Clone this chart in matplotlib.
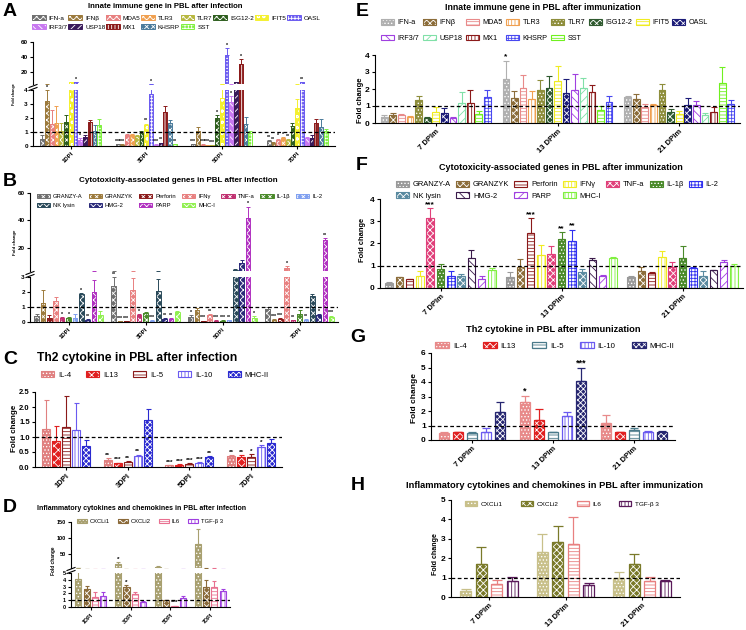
import numpy as np
import matplotlib
matplotlib.use('Agg')
import matplotlib.pyplot as plt
from matplotlib.patches import Patch
from matplotlib.lines import Line2D

plt.rcParams['font.family'] = ['Liberation Sans', 'DejaVu Sans']
plt.rcParams['hatch.linewidth'] = 0.6
plt.rcParams['axes.linewidth'] = 0.8

# ------------------------------------------------------------------ data
# Panel A : innate immune genes after infection
A_groups = ['1DPI', '3DPI', '5DPI', '7DPI']
A_genes = ['IFN-a', 'IFNβ', 'MDA5', 'TLR3', 'TLR7', 'ISG12-2', 'IFIT5', 'OASL',
           'IRF3/7', 'USP18', 'MX1', 'KHSRP', 'SST']
A_vals = [[0.50, 0.12, 0.12, 0.35], [3.20, 0.10, 1.05, 0.22], [1.60, 0.80, 0.10, 0.45],
          [1.65, 0.78, 0.08, 0.55], [1.05, 0.75, 0.06, 0.40], [1.70, 0.95, 2.00, 1.40],
          [6.70, 1.50, 3.40, 2.75], [6.50, 3.70, 43.0, 6.50], [0.45, 0.10, 3.15, 0.55],
          [0.65, 0.20, 6.70, 0.60], [1.70, 2.40, 31.0, 1.65], [1.10, 1.65, 1.60, 1.35],
          [1.50, 0.12, 0.90, 1.05]]
A_errs = [[0.30, 0.02, 0.02, 0.08], [0.80, 0.02, 0.30, 0.05], [1.00, 0.05, 0.02, 0.08],
          [1.20, 0.05, 0.02, 0.08], [0.60, 0.05, 0.02, 0.08], [0.50, 0.15, 0.22, 0.25],
          [0.50, 0.10, 1.10, 0.60], [0.50, 0.45, 9.00, 0.50], [0.10, 0.02, 0.40, 0.10],
          [0.15, 0.05, 0.50, 0.20], [0.15, 0.45, 6.00, 0.25], [0.40, 0.20, 0.50, 0.55],
          [0.40, 0.03, 0.15, 0.20]]
A_stars = [['', '***', '***', '**'], ['*', '***', '', '**'], ['', '', '***', '*'],
           ['', '', '***', '*'], ['', '', '***', '**'], ['', '', '*', ''],
           ['', '**', '', ''], ['*', '*', '*', '**'], ['*', '***', '*', ''],
           ['', '**', '', ''], ['', '', '*', ''], ['', '', '', ''], ['', '**', '', '']]

# Panel B : cytotoxicity genes after infection
B_groups = ['1DPI', '3DPI', '5DPI', '7DPI']
B_genes = ['GRANZY-A', 'GRANZYK', 'Perforin', 'IFNγ', 'TNF-a', 'IL-1β', 'IL-2',
           'NK lysin', 'HMG-2', 'PARP', 'MHC-I']
B_vals = [[0.40, 2.40, 0.35, 0.90], [1.25, 0.05, 0.80, 0.15], [0.30, 0.05, 0.08, 0.20],
          [1.40, 2.15, 0.45, 5.50], [0.25, 0.45, 0.10, 0.12], [0.25, 0.60, 0.08, 0.55],
          [0.30, 0.10, 0.12, 0.15], [1.85, 2.10, 4.00, 1.75], [0.15, 0.20, 8.50, 0.45],
          [2.00, 0.20, 42.0, 25.5], [0.45, 0.65, 0.30, 0.35]]
B_errs = [[0.15, 0.60, 0.10, 0.08], [0.90, 0.01, 0.15, 0.03], [0.20, 0.01, 0.02, 0.04],
          [0.25, 0.80, 0.08, 1.00], [0.08, 0.08, 0.03, 0.03], [0.08, 0.08, 0.03, 0.25],
          [0.25, 0.02, 0.03, 0.03], [0.10, 0.75, 0.80, 0.15], [0.03, 0.05, 2.50, 0.10],
          [0.80, 0.05, 8.00, 1.50], [0.30, 0.10, 0.08, 0.08]]
B_stars = [['', '**', '*', ''], ['', '***', '', '***'], ['', '***', '***', '***'],
           ['', '', '**', '*'], ['*', '*', '***', '**'], ['*', '*', '***', ''],
           ['', '***', '**', '**'], ['*', '', '', ''], ['**', '**', '', '*'],
           ['', '**', '*', '**'], ['', '*', '*', '***']]

# Panel C : Th2 cytokines after infection
C_groups = ['1DPI', '3DPI', '5DPI', '7DPI']
C_genes = ['IL-4', 'IL13', 'IL-5', 'IL-10', 'MHC-II']
C_vals = [[1.27, 0.22, 0.06, 0.37], [0.88, 0.13, 0.08, 0.35], [1.32, 0.17, 0.10, 0.35],
          [1.25, 0.38, 0.15, 0.68], [0.70, 1.58, 0.32, 0.80]]
C_errs = [[0.95, 0.08, 0.01, 0.03], [0.50, 0.02, 0.01, 0.05], [1.05, 0.03, 0.02, 0.08],
          [0.90, 0.03, 0.02, 0.06], [0.20, 0.35, 0.05, 0.14]]
C_stars = [['', '**', '***', '**'], ['', '***', '***', '**'], ['', '**', '***', '*'],
           ['', '**', '***', '*'], ['', '', '**', '']]

# Panel D : inflammatory cytokines after infection
D_groups = ['1DPI', '3DPI', '5DPI', '7DPI']
D_genes = ['CXCLi1', 'CXCLi2', 'IL6', 'TGF-β 3']
D_vals = [[4.10, 18.0, 9.00, 80.0], [2.60, 2.95, 1.00, 3.00], [1.40, 1.90, 0.15, 2.95],
          [1.55, 0.75, 1.30, 2.30]]
D_errs = [[1.20, 5.00, 1.50, 48.0], [0.50, 0.30, 0.10, 0.90], [0.80, 0.30, 0.05, 0.90],
          [0.60, 0.10, 0.30, 0.30]]
D_stars = [['', '*', '', ''], ['', '*', '', ''], ['', '', '***', ''], ['', '', '', '']]

# Panel E : innate immune genes after immunization
E_groups = ['7 DPIm', '13 DPIm', '21 DPIm']
E_genes = ['IFN-a', 'IFNβ', 'MDA5', 'TLR3', 'TLR7', 'ISG12-2', 'IFIT5', 'OASL',
           'IRF3/7', 'USP18', 'MX1', 'KHSRP', 'SST']
E_vals = [[0.38, 2.60, 1.54], [0.45, 1.50, 1.40], [0.45, 2.08, 0.96], [0.35, 1.44, 1.06],
          [1.37, 1.92, 1.92], [0.30, 2.08, 0.63], [0.63, 2.46, 0.54], [0.60, 1.79, 1.06],
          [0.30, 1.92, 1.06], [1.17, 2.08, 0.48], [1.17, 1.85, 0.67], [1.54, 1.21, 1.12],
          [0.54, 0.77, 2.37]]
E_errs = [[0.08, 1.05, 0.06], [0.15, 0.38, 0.29], [0.08, 0.77, 0.14], [0.05, 0.44, 0.04],
          [0.19, 0.60, 0.35], [0.08, 0.71, 0.20], [0.33, 0.91, 0.19], [0.28, 0.77, 0.44],
          [0.05, 0.98, 0.25], [0.63, 0.54, 0.10], [0.75, 0.36, 0.29], [0.38, 0.39, 0.23],
          [0.19, 0.25, 0.92]]
E_stars = [['', '*', '']] + [['', '', '']] * 12
E_bar_order = [0, 1, 2, 3, 4, 5, 6, 7, 8, 9, 10, 12, 11]

# Panel F : cytotoxicity genes after immunization
F_groups = ['7 DPIm', '13 DPIm', '21 DPIm']
F_genes = ['GRANZY-A', 'GRANZYK', 'Perforin', 'IFNγ', 'TNF-a', 'IL-1β', 'IL-2',
           'NK lysin', 'HMG-2', 'PARP', 'MHC-I']
F_vals = [[0.24, 0.50, 0.50], [0.48, 0.94, 0.75], [0.39, 2.46, 0.69], [0.54, 1.48, 1.40],
          [3.14, 1.51, 0.95], [0.85, 2.19, 1.33], [0.54, 2.13, 0.90], [0.53, 0.72, 0.54],
          [1.36, 1.25, 0.80], [0.42, 0.53, 1.15], [0.82, 1.33, 1.00]]
F_errs = [[0.05, 0.22, 0.02], [0.03, 0.36, 0.20], [0.03, 0.68, 0.02], [0.21, 0.45, 0.26],
          [0.45, 0.39, 0.20], [0.25, 0.31, 0.57], [0.23, 0.48, 0.05], [0.10, 0.13, 0.21],
          [0.36, 0.08, 0.03], [0.12, 0.04, 0.09], [0.06, 0.07, 0.07]]
F_stars = [['', '', ''], ['', '', ''], ['', '***', ''], ['', '', ''], ['***', '', ''],
           ['', '**', ''], ['', '**', ''], ['', '', ''], ['', '', ''], ['', '', ''],
           ['', '', '']]

# Panel G : Th2 cytokines after immunization
G_groups = ['7 DPIm', '13 DPIm', '21 DPIm']
G_genes = ['IL-4', 'IL13', 'IL-5', 'IL-10', 'MHC-II']
G_vals = [[0.46, 2.59, 1.14], [0.53, 1.37, 0.53], [0.46, 0.53, 0.69], [0.57, 1.65, 0.57],
          [1.95, 4.05, 0.53]]
G_errs = [[0.07, 0.43, 0.58], [0.05, 0.76, 0.05], [0.09, 0.05, 0.16], [0.23, 0.30, 0.02],
          [0.65, 0.92, 0.07]]
G_stars = [['', '*', ''], ['', '', ''], ['', '', ''], ['', '', ''], ['', '***', '']]

# Panel H : inflammatory cytokines after immunization
H_groups = ['7 DPIm', '13 DPIm', '21 DPIm']
H_genes = ['CXCLi1', 'CXCLi2', 'IL6', 'TGF-β 3']
H_vals = [[0.29, 2.31, 0.98], [1.69, 2.86, 1.69], [0.67, 2.72, 0.80], [0.81, 0.63, 0.84]]
H_errs = [[0.12, 0.94, 0.30], [0.91, 0.82, 0.54], [0.22, 1.42, 0.24], [0.20, 0.09, 0.05]]
H_stars = [['', '', '']] * 4

# ------------------------------------------------------------------ styles
A_colors = ['#707070', '#9c7a3c', '#e88080', '#f0a050', '#b8b840', '#2e5e1e', '#f4f030',
            '#6a5af0', '#c878f0', '#3a1a5a', '#8b1a1a', '#4a7a9a', '#80f040']
A_hatch = ['xxxxx'] * 6 + ['ooo', '+++++', '\\\\\\\\\\', '/////', '|||||', 'xxxxx', '+++++']
A_mode = ['f'] * 13

B_colors = ['#707070', '#9c7a3c', '#8b1a1a', '#e88080', '#c03070', '#4a8a2a', '#80a0f0',
            '#2a4a5a', '#2a2a7a', '#b030c0', '#90f050']
B_hatch = ['xxxxx'] * 11
B_mode = ['f'] * 11

C_colors = ['#e08080', '#e02020', '#8b1a1a', '#6a5af0', '#2a2ad0']
C_hatch = ['.....', 'xxxx', '-----', '|||||', 'xxxxxx']
C_mode = ['f', 'f', 'l', 'l', 'f']

D_colors = ['#a8a070', '#8b6a3a', '#e87090', '#a040e0']
D_hatch = ['.....', 'xxxxx', '-----', '|||||']
D_mode = ['f', 'f', 'l', 'l']

E_colors = ['#b0b0b0', '#8c6d3a', '#e88a8a', '#f0a050', '#8e8e3c', '#2f5a2f', '#f0ec20',
            '#1c1c78', '#a040e0', '#80e0a8', '#8b1a1a', '#4848f0', '#70f020']
E_hatch = ['.....', 'xxxxx', '-----', '|||||', '.....', 'xxxxx', '-----', 'xxxxx',
           '\\\\\\\\', '////', '|||||', '+++++', '-----']
E_mode = ['f', 'f', 'l', 'l', 'f', 'f', 'l', 'f', 'l', 'l', 'l', 'l', 'l']

F_colors = ['#9a9a9a', '#8c6d3a', '#8b1a1a', '#f0ec20', '#e0407a', '#4a8a2a', '#3030f0',
            '#5a8aa0', '#3a1a4a', '#a040e0', '#80f040']
F_hatch = ['.....', 'xxxxx', '-----', '|||||', 'xxxxx', '.....', '+++++', 'xxxxx',
           '\\\\\\\\', '////', '|||||']
F_mode = ['f', 'f', 'l', 'l', 'f', 'f', 'l', 'f', 'l', 'l', 'l']

G_colors = ['#e88a8a', '#e02020', '#4a7a8a', '#6a5af0', '#262670']
G_hatch = ['.....', 'xxxxx', '-----', '|||||', 'xxxxxx']
G_mode = ['f', 'f', 'l', 'l', 'f']

H_colors = ['#c8c08a', '#7a7a2a', '#e88080', '#5a1a5a']
H_hatch = ['.....', 'xxxxx', '-----', '|||||']
H_mode = ['f', 'f', 'l', 'l']

# ------------------------------------------------------------------ helpers
W, H = 746, 630
fig = plt.figure(figsize=(W / 100, H / 100), dpi=100)
renderer = fig.canvas.get_renderer()


def box(l, t, r, b):
    return [l / W, 1 - b / H, (r - l) / W, (b - t) / H]


def fit(t, target, vertical=False):
    bb = t.get_window_extent(renderer)
    cur = bb.height if vertical else bb.width
    t.set_fontsize(t.get_fontsize() * target / cur)


def ftext(x, y, s, target=None, vertical=False, **kw):
    t = fig.text(x / W, 1 - y / H, s, ha='center', va='center',
                 rotation=90 if vertical else 0, **kw)
    if target:
        fit(t, target, vertical)
    return t


def panel(boxes, ylims, yticks, groups, genes, vals, errs, stars, colors, hatches, modes,
          slot, width, tick_fs, xfs, star_fs, cap, lw=0.8, order=None, fmt=None):
    axs = [fig.add_axes(box(*b)) for b in boxes]
    ng, n = len(groups), len(genes)
    if order is None:
        order = list(range(n))
    pos = {g: k for k, g in enumerate(order)}
    handles = []
    for i in range(n):
        xs = np.arange(ng) + (pos[i] - (n - 1) / 2) * slot
        v = np.array(vals[i])
        e = np.array(errs[i])
        for ax in axs:
            if modes[i] == 'f':
                ax.bar(xs, v, width, color=colors[i], edgecolor='white', hatch=hatches[i],
                       linewidth=0)
                ax.bar(xs, v, width, fill=False, edgecolor=colors[i], linewidth=lw)
            else:
                ax.bar(xs, v, width, color='white', edgecolor=colors[i], hatch=hatches[i],
                       linewidth=lw)
            ax.errorbar(xs, v, yerr=[np.zeros(ng), e], fmt='none', ecolor=colors[i],
                        elinewidth=lw, capsize=cap, capthick=lw)
        if modes[i] == 'f':
            handles.append((Patch(facecolor=colors[i], edgecolor='white', hatch=hatches[i],
                                  linewidth=0),
                            Patch(fill=False, edgecolor=colors[i], linewidth=lw)))
        else:
            handles.append(Patch(facecolor='white', edgecolor=colors[i], hatch=hatches[i],
                                 linewidth=lw))
    for k, ax in enumerate(axs):
        ax.set_xlim(-0.5, ng - 0.5)
        ax.set_ylim(*ylims[k])
        ax.set_yticks(yticks[k])
        if fmt:
            ax.set_yticklabels([fmt.format(t) for t in yticks[k]])
        ax.spines['top'].set_visible(False)
        ax.spines['right'].set_visible(False)
        ax.tick_params(axis='both', length=2.5, width=0.8, labelsize=tick_fs, pad=1.2)
        plt.setp(ax.get_yticklabels(), fontweight='bold')
        if k < len(axs) - 1:
            ax.spines['bottom'].set_visible(False)
            ax.tick_params(bottom=False, labelbottom=False)
    low = axs[-1]
    low.set_xticks(range(ng))
    low.set_xticklabels(groups, rotation=45, ha='right', rotation_mode='anchor',
                        fontsize=xfs, fontweight='bold')
    low.axhline(1, color='black', lw=0.9, ls=(0, (3, 2)))
    for i in range(n):
        for g in range(ng):
            s = stars[i][g]
            if not s:
                continue
            x = g + (pos[i] - (n - 1) / 2) * slot
            top = vals[i][g] + errs[i][g]
            ax = axs[0] if (len(axs) > 1 and top > ylims[0][0]) else low
            ax.annotate(s, (x, top), xytext=(0, 0.2), textcoords='offset points',
                        ha='center', va='bottom', fontsize=star_fs, fontweight='bold',
                        annotation_clip=False)
    return axs, handles


def breakmark(x, y1, y2):
    for y in (y1, y2):
        fig.add_artist(Line2D([(x - 4) / W, (x + 4) / W], [1 - (y + 1.5) / H, 1 - (y - 1.5) / H],
                              color='black', lw=0.8, transform=fig.transFigure))


def rowmajor(items, ncol):
    n = len(items)
    nrows = -(-n // ncol)
    out = []
    for c in range(ncol):
        for r in range(nrows):
            k = r * ncol + c
            if k < n:
                out.append(items[k])
    return out


def legend(handles, labels, x, y, ncol, fs, hl, hh, cs, ls, tp=0.5):
    fig.legend(rowmajor(handles, ncol), rowmajor(labels, ncol), loc='upper left',
               bbox_to_anchor=(x / W, 1 - y / H), ncol=ncol, fontsize=fs, frameon=False,
               handlelength=hl, handleheight=hh, columnspacing=cs, labelspacing=ls,
               handletextpad=tp, borderpad=0, borderaxespad=0)


# ------------------------------------------------------------------ panel A
axs, hA = panel([(33, 42, 335, 84), (33, 90, 335, 146)], [(4, 60), (0, 4)],
                [[20, 40, 60], [0, 1, 2, 3, 4]], A_groups, A_genes, A_vals, A_errs, A_stars,
                A_colors, A_hatch, A_mode, 0.063, 0.048, 4.6, 4.3, 3.8, 1.2, lw=0.7)
breakmark(33, 86, 89)
legend(hA, A_genes, 32, 15, 8, 4.6, 2.15, 0.8, 0.1, 0.55, tp=0.47)
ftext(165, 6, 'Innate immune gene in PBL after infection', 156, fontweight='bold')
ftext(14, 94, 'Fold change', 22, vertical=True, fontweight='bold')
ftext(10, 12, 'A', fontsize=14, fontweight='bold')

# ------------------------------------------------------------------ panel B
axs, hB = panel([(30, 193, 338, 271), (30, 277, 338, 322)], [(3, 60), (0, 3)],
                [[20, 40, 60], [0, 1, 2, 3]], B_groups, B_genes, B_vals, B_errs, B_stars,
                B_colors, B_hatch, B_mode, 0.083, 0.062, 4.6, 4.3, 3.8, 1.2, lw=0.7)
breakmark(30, 273, 276)
legend(hB, B_genes, 37, 194, 7, 4.2, 2.25, 0.8, 1.07, 0.6)
ftext(178, 180, 'Cytotoxicity-associated genes in PBL after infection', 197, fontweight='bold')
ftext(15, 242, 'Fold change', 26, vertical=True, fontweight='bold')
ftext(10, 181, 'B', fontsize=14, fontweight='bold')

# ------------------------------------------------------------------ panel C
axs, hC = panel([(35, 392, 282, 467)], [(0, 2.5)], [[0, 0.5, 1.0, 1.5, 2.0, 2.5]],
                C_groups, C_genes, C_vals, C_errs, C_stars, C_colors, C_hatch, C_mode,
                0.162, 0.13, 5.5, 5.5, 4.6, 1.8, lw=0.8, fmt='{:.1f}')
legend(hC, C_genes, 41, 371, 5, 5.5, 1.7, 0.8, 2.0, 0.5)
ftext(137, 358, 'Th2 cytokine in PBL after infection', 199, fontweight='bold')
ftext(15, 428, 'Fold change', 47, vertical=True, fontweight='bold')
ftext(10, 360, 'C', fontsize=14, fontweight='bold')

# ------------------------------------------------------------------ panel D
axs, hD = panel([(71, 522, 230, 568), (71, 573, 230, 607)], [(5, 150), (0, 5)],
                [[50, 100, 150], [0, 1, 2, 3, 4, 5]], D_groups, D_genes, D_vals, D_errs,
                D_stars, D_colors, D_hatch, D_mode, 0.21, 0.155, 4.0, 4.0, 4.6, 1.3, lw=0.8)
breakmark(71, 569, 572)
legend(hD, D_genes, 77, 519, 4, 4.2, 1.7, 0.8, 1.4, 0.5)
ftext(142, 509, 'Inflammatory cytokines and chemokines in PBL after infection', 209,
      fontweight='bold')
ftext(53, 561, 'Fold change', 28, vertical=True, fontweight='bold')
ftext(10, 507, 'D', fontsize=14, fontweight='bold')

# ------------------------------------------------------------------ panel E
axs, hE = panel([(375, 55, 740, 123)], [(0, 4)], [[0, 1, 2, 3, 4]], E_groups, E_genes,
                E_vals, E_errs, E_stars, E_colors, E_hatch, E_mode, 0.0707, 0.055, 6.0, 5.5,
                6.0, 2.0, lw=0.8, order=E_bar_order)
legend(hE, E_genes, 381, 19, 8, 5.2, 1.8, 0.8, 0.47, 1.2)
ftext(543, 7, 'Innate immune gene in PBL after immunization', 196, fontweight='bold')
ftext(360, 100, 'Fold change', 46, vertical=True, fontweight='bold')
ftext(362, 12, 'E', fontsize=14, fontweight='bold')

# ------------------------------------------------------------------ panel F
axs, hF = panel([(380, 199, 743, 288)], [(0, 4)], [[0, 1, 2, 3, 4]], F_groups, F_genes,
                F_vals, F_errs, F_stars, F_colors, F_hatch, F_mode, 0.085, 0.062, 6.0, 5.5,
                6.0, 2.0, lw=0.8)
legend(hF, F_genes, 396, 181, 7, 5.4, 1.75, 0.8, 0.67, 0.5)
ftext(561, 168, 'Cytotoxicity-associated genes in PBL after immunization', 243,
      fontweight='bold')
ftext(362, 240, 'Fold change', 44, vertical=True, fontweight='bold')
ftext(362, 166, 'F', fontsize=14, fontweight='bold')

# ------------------------------------------------------------------ panel G
axs, hG = panel([(431, 353, 675, 440)], [(0, 6)], [[0, 1, 2, 3, 4, 5, 6]], G_groups,
                G_genes, G_vals, G_errs, G_stars, G_colors, G_hatch, G_mode, 0.172, 0.123,
                6.0, 5.5, 6.5, 2.8, lw=0.9)
legend(hG, G_genes, 435, 342, 5, 5.7, 1.75, 0.8, 2.05, 0.5)
ftext(553, 330, 'Th2 cytokine in PBL after immunization', 173, fontweight='bold')
ftext(415, 398, 'Fold change', 49, vertical=True, fontweight='bold')
ftext(358, 338, 'G', fontsize=14, fontweight='bold')

# ------------------------------------------------------------------ panel H
axs, hH = panel([(451, 500, 680, 597)], [(0, 5)], [[0, 1, 2, 3, 4, 5]], H_groups, H_genes,
                H_vals, H_errs, H_stars, H_colors, H_hatch, H_mode, 0.203, 0.144, 6.0, 5.5,
                6.0, 3.4, lw=0.9)
legend(hH, H_genes, 465, 501, 4, 4.6, 1.9, 0.8, 2.9, 0.5)
ftext(555, 486, 'Inflammatory cytokines and chemokines in PBL after immunization', 295,
      fontweight='bold')
ftext(436, 554, 'Fold change', 42, vertical=True, fontweight='bold')
ftext(358, 485, 'H', fontsize=14, fontweight='bold')

fig.savefig('out.png', dpi=100)
